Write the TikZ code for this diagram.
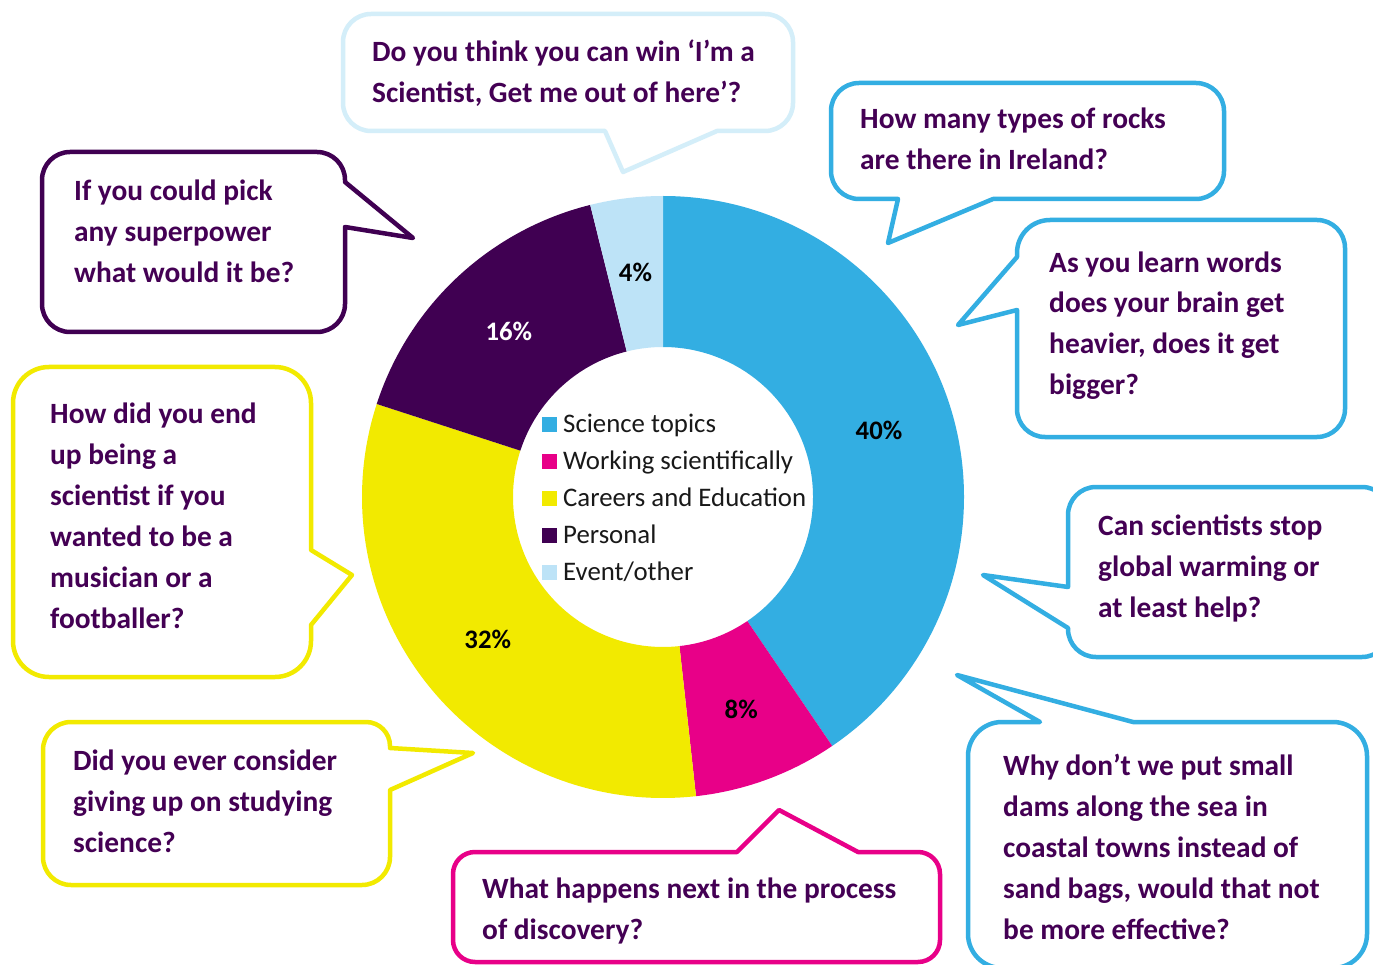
\documentclass[tikz,border=0pt]{standalone}
\usepackage{fontspec}
\setmainfont{Carlito}
\definecolor{sciblue}{RGB}{51,174,226}
\definecolor{workpink}{RGB}{232,0,136}
\definecolor{careeryel}{RGB}{242,234,0}
\definecolor{perspurp}{RGB}{64,0,82}
\definecolor{eventblue}{RGB}{189,227,247}
\definecolor{winblue}{RGB}{212,238,249}
\definecolor{qcol}{RGB}{68,0,84}
\definecolor{legblack}{RGB}{25,25,25}
\begin{document}
\begin{tikzpicture}[x=1pt, y=1pt,
    bubble/.style={line width=4.5pt, fill=white, line join=round},
    qtext/.style={anchor=base west, inner sep=0pt, align=left, text=qcol,
      font=\fontsize{29.4}{41}\selectfont\bfseries},
    pct/.style={inner sep=0pt, font=\fontsize{26.7}{30}\selectfont\bfseries},
    legtext/.style={anchor=base west, inner sep=0pt, text=legblack,
      font=\fontsize{26.8}{30}\selectfont}]
  \useasboundingbox (0,0) rectangle (1373,-965);
  \fill[white] (0,0) rectangle (1373,-965);
  \clip (0,0) rectangle (1373,-965);

  % donut
  \begin{scope}[shift={(663,-497)}]
    \coordinate (c) at (0,0);
    \foreach \a/\b/\col in {90/-55.8/sciblue, -55.8/-83.7/workpink,
        -83.7/-198/careeryel, -198/-256/perspurp, -256/-270/eventblue}
      \fill[\col] (\a:301) arc[start angle=\a, end angle=\b, radius=301]
        -- (\b:150) arc[start angle=\b, end angle=\a, radius=150] -- cycle;
    \node[pct] (p40) at (17.1:226) {40\%};
    \node[pct] (p8) at (-69.75:226) {8\%};
    \node[pct] (p32) at (-140.85:226) {32\%};
    \node[pct, text=white] (p16) at (-227:226) {16\%};
    \node[pct] (p4) at (-263:226) {4\%};
  \end{scope}

  % legend
  \foreach \col/\lab [count=\i] in {sciblue/Science topics,
      workpink/Working scientifically, careeryel/Careers and Education,
      perspurp/Personal, eventblue/{Event/other}} {
    \node[fill=\col, minimum size=15pt, inner sep=0pt] (sq\i)
      at (549.5, {-424-37*(\i-1)}) {};
    \node[legtext] (lg\i) at (563, {-432-37*(\i-1)}) {\lab};
  }

  % speech bubbles
  \draw[bubble, draw=winblue] (371,-14) -- (765,-14)
    arc[start angle=90, end angle=0, radius=28] -- (793,-103)
    arc[start angle=0, end angle=-90, radius=28] -- (717,-131)
    -- (623,-172) -- (605,-131) -- (371,-131)
    arc[start angle=-90, end angle=-180, radius=28] -- (343,-42)
    arc[start angle=180, end angle=90, radius=28] -- cycle;
  \draw[bubble, draw=perspurp] (70,-152) -- (317,-152)
    arc[start angle=90, end angle=0, radius=28] -- (345,-182)
    -- (413,-238) -- (345,-227) -- (345,-304)
    arc[start angle=0, end angle=-90, radius=28] -- (70,-332)
    arc[start angle=-90, end angle=-180, radius=28] -- (42,-180)
    arc[start angle=180, end angle=90, radius=28] -- cycle;
  \draw[bubble, draw=sciblue] (859,-83) -- (1196,-83)
    arc[start angle=90, end angle=0, radius=28] -- (1224,-171)
    arc[start angle=0, end angle=-90, radius=28] -- (993,-199)
    -- (888,-243) -- (898,-199) -- (859,-199)
    arc[start angle=-90, end angle=-180, radius=28] -- (831,-111)
    arc[start angle=180, end angle=90, radius=28] -- cycle;
  \draw[bubble, draw=sciblue] (1050,-220) -- (1317,-220)
    arc[start angle=90, end angle=0, radius=28] -- (1345,-409)
    arc[start angle=0, end angle=-90, radius=28] -- (1045,-437)
    arc[start angle=-90, end angle=-180, radius=28] -- (1017,-310)
    -- (958,-325) -- (1017,-257) -- (1017,-253)
    arc[start angle=180, end angle=90, radius=33] -- cycle;
  \draw[bubble, draw=sciblue] (1096,-487) -- (1362,-487)
    arc[start angle=90, end angle=0, radius=28] -- (1390,-629)
    arc[start angle=0, end angle=-90, radius=28] -- (1096,-657)
    arc[start angle=-90, end angle=-180, radius=28] -- (1068,-628)
    -- (983,-575) -- (1068,-587) -- (1068,-515)
    arc[start angle=180, end angle=90, radius=28] -- cycle;
  \draw[bubble, draw=sciblue] (1002,-722) -- (1040,-722) -- (957,-675)
    -- (1133,-722) -- (1333,-722)
    arc[start angle=90, end angle=0, radius=34] -- (1367,-934)
    arc[start angle=0, end angle=-90, radius=34] -- (1002,-968)
    arc[start angle=-90, end angle=-180, radius=34] -- (968,-756)
    arc[start angle=180, end angle=90, radius=34] -- cycle;
  \draw[bubble, draw=careeryel] (49,-367) -- (275,-367)
    arc[start angle=90, end angle=0, radius=36] -- (311,-550)
    -- (352,-575) -- (311,-625) -- (311,-641)
    arc[start angle=0, end angle=-90, radius=36] -- (49,-677)
    arc[start angle=-90, end angle=-180, radius=36] -- (13,-403)
    arc[start angle=180, end angle=90, radius=36] -- cycle;
  \draw[bubble, draw=careeryel] (71,-722) -- (366,-722)
    arc[start angle=90, end angle=0, radius=24] -- (390,-748)
    -- (473,-753) -- (390,-790) -- (390,-857)
    arc[start angle=0, end angle=-90, radius=28] -- (71,-885)
    arc[start angle=-90, end angle=-180, radius=28] -- (43,-750)
    arc[start angle=180, end angle=90, radius=28] -- cycle;
  \draw[bubble, draw=workpink] (475,-852) -- (737,-852) -- (779,-810)
    -- (858,-852) -- (918,-852)
    arc[start angle=90, end angle=0, radius=22] -- (940,-940)
    arc[start angle=0, end angle=-90, radius=22] -- (475,-962)
    arc[start angle=-90, end angle=-180, radius=22] -- (453,-874)
    arc[start angle=180, end angle=90, radius=22] -- cycle;

  % questions (placed at the baseline of their last line)
  \node[qtext] (qwin) at (372,-103)
    {Do you think you can win ‘I’m a\\Scientist, Get me out of here’?};
  \node[qtext] (qpower) at (74,-283)
    {If you could pick\\any superpower\\what would it be?};
  \node[qtext] (qrocks) at (860,-170)
    {How many types of rocks\\are there in Ireland?};
  \node[qtext] (qbrain) at (1049,-395)
    {As you learn words\\does your brain get\\heavier, does it get\\bigger?};
  \node[qtext] (qwarm) at (1098,-617)
    {Can scientists stop\\global warming or\\at least help?};
  \node[qtext] (qdams) at (1003,-939)
    {Why don’t we put small\\dams along the sea in\\coastal towns instead of\\sand bags, would that not\\be more effective?};
  \node[qtext] (qcareer) at (50,-628)
    {How did you end\\up being a\\scientist if you\\wanted to be a\\musician or a\\footballer?};
  \node[qtext] (qgiveup) at (73,-852)
    {Did you ever consider\\giving up on studying\\science?};
  \node[qtext] (qnext) at (482,-939)
    {What happens next in the process\\of discovery?};
\end{tikzpicture}
\end{document}
